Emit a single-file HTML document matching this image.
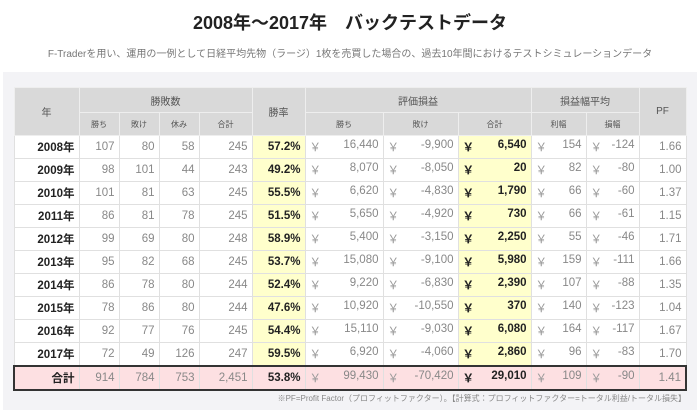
<!DOCTYPE html><html><head><meta charset="utf-8"><style>
body{margin:0;width:700px;height:410px;background:#fff;font-family:"Liberation Sans","Noto Sans CJK JP",sans-serif;position:relative;overflow:hidden}
h1{position:absolute;top:9px;left:0;width:700px;text-align:center;margin:0;font-size:18px;font-weight:bold;color:#222}
.sub{position:absolute;top:45px;left:0;width:700px;text-align:center;font-size:10px;color:#777}
.panel{position:absolute;left:3px;top:72px;width:694px;height:338px;background:#f3f3f6}
table{position:absolute;left:13px;top:87px;border-collapse:collapse;table-layout:fixed;width:672px;font-size:11.5px}
td,th{border:1px solid #e0e0e0;padding:0 4px;overflow:hidden;white-space:nowrap}
th{background:#d9d9d9;color:#555;font-weight:normal;font-size:10px;border-color:#eee}
tr.h1 th{height:24px}tr.h2 th{height:22px;font-size:8px}
th.big{font-size:10px}
td{background:#fff;color:#888;text-align:right;height:22px}
td.y{font-weight:bold;color:#222}
td.r{background:#ffffcc;color:#222;font-weight:bold}
td.m{display:table-cell}
.yen{float:left;color:#999}
td.r .yen{color:#222}
tr.tot td{background:#fde0e2;border-top:2px solid #333;border-bottom:2px solid #333}
tr.tot td:first-child{border-left:2px solid #333}tr.tot td:last-child{border-right:2px solid #333}
.note{position:absolute;top:393px;right:14px;font-size:8px;color:#888}
</style></head><body>
<h1>2008年～2017年　バックテストデータ</h1>
<div class="sub">F-Traderを用い、運用の一例として日経平均先物（ラージ）1枚を売買した場合の、過去10年間におけるテストシミュレーションデータ</div>
<div class="panel"></div>
<table>
<colgroup><col style="width:65px"><col style="width:40px"><col style="width:40px"><col style="width:40px"><col style="width:53px"><col style="width:53px"><col style="width:78px"><col style="width:75px"><col style="width:73px"><col style="width:55px"><col style="width:53px"><col style="width:47px"></colgroup>
<tr class="h1"><th rowspan="2" class="big">年</th><th colspan="4">勝敗数</th><th rowspan="2" class="big">勝率</th><th colspan="3">評価損益</th><th colspan="2">損益幅平均</th><th rowspan="2" class="big">PF</th></tr>
<tr class="h2"><th>勝ち</th><th>敗け</th><th>休み</th><th>合計</th><th>勝ち</th><th>敗け</th><th>合計</th><th>利幅</th><th>損幅</th></tr>
<tr><td class="y">2008年</td><td>107</td><td>80</td><td>58</td><td>245</td><td class="r">57.2%</td><td><span class="yen">￥</span>16,440</td><td><span class="yen">￥</span>-9,900</td><td class="r"><span class="yen">￥</span>6,540</td><td><span class="yen">￥</span>154</td><td><span class="yen">￥</span>-124</td><td>1.66</td></tr>
<tr><td class="y">2009年</td><td>98</td><td>101</td><td>44</td><td>243</td><td class="r">49.2%</td><td><span class="yen">￥</span>8,070</td><td><span class="yen">￥</span>-8,050</td><td class="r"><span class="yen">￥</span>20</td><td><span class="yen">￥</span>82</td><td><span class="yen">￥</span>-80</td><td>1.00</td></tr>
<tr><td class="y">2010年</td><td>101</td><td>81</td><td>63</td><td>245</td><td class="r">55.5%</td><td><span class="yen">￥</span>6,620</td><td><span class="yen">￥</span>-4,830</td><td class="r"><span class="yen">￥</span>1,790</td><td><span class="yen">￥</span>66</td><td><span class="yen">￥</span>-60</td><td>1.37</td></tr>
<tr><td class="y">2011年</td><td>86</td><td>81</td><td>78</td><td>245</td><td class="r">51.5%</td><td><span class="yen">￥</span>5,650</td><td><span class="yen">￥</span>-4,920</td><td class="r"><span class="yen">￥</span>730</td><td><span class="yen">￥</span>66</td><td><span class="yen">￥</span>-61</td><td>1.15</td></tr>
<tr><td class="y">2012年</td><td>99</td><td>69</td><td>80</td><td>248</td><td class="r">58.9%</td><td><span class="yen">￥</span>5,400</td><td><span class="yen">￥</span>-3,150</td><td class="r"><span class="yen">￥</span>2,250</td><td><span class="yen">￥</span>55</td><td><span class="yen">￥</span>-46</td><td>1.71</td></tr>
<tr><td class="y">2013年</td><td>95</td><td>82</td><td>68</td><td>245</td><td class="r">53.7%</td><td><span class="yen">￥</span>15,080</td><td><span class="yen">￥</span>-9,100</td><td class="r"><span class="yen">￥</span>5,980</td><td><span class="yen">￥</span>159</td><td><span class="yen">￥</span>-111</td><td>1.66</td></tr>
<tr><td class="y">2014年</td><td>86</td><td>78</td><td>80</td><td>244</td><td class="r">52.4%</td><td><span class="yen">￥</span>9,220</td><td><span class="yen">￥</span>-6,830</td><td class="r"><span class="yen">￥</span>2,390</td><td><span class="yen">￥</span>107</td><td><span class="yen">￥</span>-88</td><td>1.35</td></tr>
<tr><td class="y">2015年</td><td>78</td><td>86</td><td>80</td><td>244</td><td class="r">47.6%</td><td><span class="yen">￥</span>10,920</td><td><span class="yen">￥</span>-10,550</td><td class="r"><span class="yen">￥</span>370</td><td><span class="yen">￥</span>140</td><td><span class="yen">￥</span>-123</td><td>1.04</td></tr>
<tr><td class="y">2016年</td><td>92</td><td>77</td><td>76</td><td>245</td><td class="r">54.4%</td><td><span class="yen">￥</span>15,110</td><td><span class="yen">￥</span>-9,030</td><td class="r"><span class="yen">￥</span>6,080</td><td><span class="yen">￥</span>164</td><td><span class="yen">￥</span>-117</td><td>1.67</td></tr>
<tr><td class="y">2017年</td><td>72</td><td>49</td><td>126</td><td>247</td><td class="r">59.5%</td><td><span class="yen">￥</span>6,920</td><td><span class="yen">￥</span>-4,060</td><td class="r"><span class="yen">￥</span>2,860</td><td><span class="yen">￥</span>96</td><td><span class="yen">￥</span>-83</td><td>1.70</td></tr>
<tr class="tot"><td class="y">合計</td><td>914</td><td>784</td><td>753</td><td>2,451</td><td class="y">53.8%</td><td><span class="yen">￥</span>99,430</td><td><span class="yen">￥</span>-70,420</td><td class="y"><span class="yen" style="color:#222">￥</span>29,010</td><td><span class="yen">￥</span>109</td><td><span class="yen">￥</span>-90</td><td>1.41</td></tr>
</table>
<div class="note">※PF=Profit Factor（プロフィットファクター）。【計算式：プロフィットファクター=トータル利益/トータル損失】</div>
</body></html>
